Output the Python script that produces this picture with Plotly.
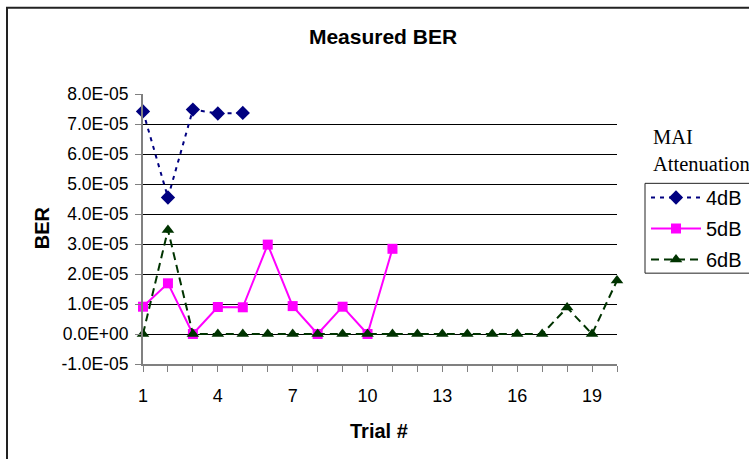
import plotly.graph_objects as go

trials = list(range(1, 21))
ber_4db = [7.42e-5, 4.55e-5, 7.48e-5, 7.35e-5, 7.37e-5]
ber_5db = [0.91e-5, 1.69e-5, 0.0, 0.9e-5, 0.89e-5, 2.98e-5, 0.93e-5, 0.0, 0.91e-5, 0.0, 2.84e-5]
ber_6db = [0.0, 3.47e-5, 0, 0, 0, 0, 0, 0, 0, 0, 0, 0, 0, 0, 0, 0, 0, 0.88e-5, 0.0, 1.78e-5]
series_names = ["4dB", "5dB", "6dB"]
y_tick_vals = [-1e-5, 0, 1e-5, 2e-5, 3e-5, 4e-5, 5e-5, 6e-5, 7e-5, 8e-5]
y_tick_text = ["-1.0E-05", "0.0E+00", "1.0E-05", "2.0E-05", "3.0E-05", "4.0E-05",
               "5.0E-05", "6.0E-05", "7.0E-05", "8.0E-05"]
x_tick_text = [str(t) if (t - 1) % 3 == 0 else "" for t in trials]

W, H = 749, 459
L, R, T, B = 143, 617, 93.5, 364
def px(x):
    return (x - L) / (R - L)
def py(y):
    return (B - y) / (B - T)

FONT = "Liberation Sans, Arial, sans-serif"

fig = go.Figure()
fig.add_trace(go.Scatter(
    x=trials[:len(ber_4db)], y=ber_4db, name=series_names[0], mode="lines+markers",
    line=dict(color="#000080", width=2, dash="4px,5px"),
    marker=dict(symbol="diamond", size=11, color="#000080"),
    legendgroup="a", cliponaxis=False))
fig.add_trace(go.Scatter(
    x=trials[:len(ber_5db)], y=ber_5db, name=series_names[1], mode="lines+markers",
    line=dict(color="#FF00FF", width=2),
    marker=dict(symbol="square", size=10, color="#FF00FF"),
    legendgroup="b", cliponaxis=False))
fig.add_trace(go.Scatter(
    x=trials[:len(ber_6db)], y=ber_6db, name=series_names[2], mode="lines+markers",
    line=dict(color="#003300", width=2, dash="8px,5px"),
    marker=dict(symbol="triangle-up", size=11, color="#003300"),
    legendgroup="c", cliponaxis=False))

fig.update_layout(
    width=W, height=H,
    margin=dict(l=L, r=W - R, t=T, b=H - B, pad=0),
    paper_bgcolor="white", plot_bgcolor="white",
    font=dict(family=FONT, size=17, color="black"),
    showlegend=True,
    legend=dict(x=646 / W, y=1 - 178 / H, xref="container", yref="container",
                xanchor="left", yanchor="top",
                bgcolor="rgba(0,0,0,0)", borderwidth=0,
                font=dict(family=FONT, size=20, color="black"),
                traceorder="grouped", tracegroupgap=2, itemwidth=50),
    title=dict(text="<b>Measured BER</b>", x=383 / W, xanchor="center",
               y=1 - 37 / H, yanchor="middle", yref="container",
               font=dict(family=FONT, size=21, color="black")),
    xaxis=dict(range=[1, 20], tickmode="array", tickvals=trials, ticktext=x_tick_text,
               showgrid=False, zeroline=False, showline=True, linecolor="#808080", linewidth=2,
               ticks="outside", ticklen=6, tickcolor="#808080", tickwidth=1,
               tickfont=dict(size=18), ticklabelstandoff=8),
    yaxis=dict(range=[-1e-5, 8e-5], tickmode="array", tickvals=y_tick_vals, ticktext=y_tick_text,
               showgrid=True, gridcolor="black", gridwidth=1, zeroline=False,
               showline=True, linecolor="#808080", linewidth=2,
               ticks="outside", ticklen=6, tickcolor="#808080", tickwidth=1,
               tickfont=dict(size=17.5), ticklabelstandoff=3),
    annotations=[
        dict(text="<b>BER</b>", x=px(42), y=py(228), xref="paper", yref="paper",
             xanchor="center", yanchor="middle",
             textangle=-90, showarrow=False, font=dict(family=FONT, size=20)),
        dict(text="<b>Trial #</b>", x=px(379), y=py(431), xref="paper", yref="paper",
             xanchor="center", yanchor="middle",
             showarrow=False, font=dict(family=FONT, size=20)),
        dict(text="MAI<br>Attenuation", x=px(651), y=py(124), xref="paper", yref="paper",
             xanchor="left", yanchor="top", align="left", showarrow=False,
             font=dict(family="Liberation Serif, Times New Roman, serif", size=20.5)),
    ],
    shapes=[
        dict(type="rect", xref="paper", yref="paper", x0=px(7), x1=px(770), y0=py(7), y1=py(480),
             line=dict(color="#222222", width=2), layer="below"),
        dict(type="rect", xref="paper", yref="paper", x0=px(645), x1=px(770), y0=py(183), y1=py(273),
             line=dict(color="#222222", width=1), layer="below"),
    ],
)

fig.write_html("out.html")
